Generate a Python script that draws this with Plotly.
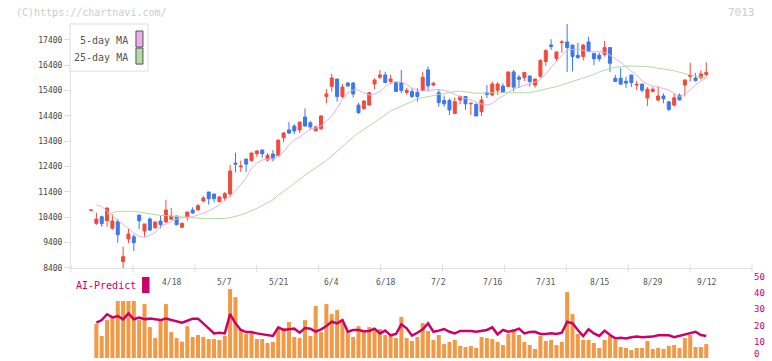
import plotly.graph_objects as go

dates = ["3/28", "3/31", "4/1", "4/2", "4/3", "4/4", "4/7", "4/8", "4/9", "4/10", "4/11", "4/14", "4/15", "4/16", "4/17", "4/18",
         "4/21", "4/22", "4/23", "4/24", "4/25", "4/28", "4/30", "5/1", "5/2", "5/7", "5/8", "5/9", "5/12", "5/13", "5/14", "5/15",
         "5/16", "5/19", "5/20", "5/21", "5/22", "5/23", "5/26", "5/27", "5/28", "5/29", "5/30", "6/2", "6/3", "6/4", "6/5", "6/6",
         "6/9", "6/10", "6/11", "6/12", "6/13", "6/16", "6/17", "6/18", "6/19", "6/20", "6/23", "6/24", "6/25", "6/26", "6/27", "6/30",
         "7/1", "7/2", "7/3", "7/4", "7/7", "7/8", "7/9", "7/10", "7/11", "7/14", "7/15", "7/16", "7/17", "7/18", "7/22", "7/23",
         "7/24", "7/25", "7/28", "7/29", "7/30", "7/31", "8/1", "8/4", "8/5", "8/6", "8/7", "8/8", "8/12", "8/13", "8/14", "8/15",
         "8/18", "8/19", "8/20", "8/21", "8/22", "8/25", "8/26", "8/27", "8/28", "8/29", "9/1", "9/2", "9/3", "9/4", "9/5", "9/8",
         "9/9", "9/10", "9/11", "9/12"]

open_ = [10680, 10160, 10425, 10267, 9967, 10228, 8649, 9545, 9635, 10492, 9860, 10334, 9991, 10255, 10216, 10322,
         10452, 10006, 10425, 10689, 10689, 11044, 11400, 11321, 11017, 11163, 11321, 12540, 12390, 12700, 12640, 12910,
         13060, 12660, 12900, 12830, 13540, 13850, 14000, 13850, 14360, 14130, 13810, 13900, 15170, 15570, 15860, 15170,
         15700, 15700, 14830, 14690, 14830, 15660, 15930, 16020, 15760, 15720, 15720, 15330, 15370, 15330, 15420, 16220,
         15620, 15320, 15010, 15010, 14500, 15030, 15170, 14880, 14860, 14570, 15320, 15230, 15420, 15580, 15560, 16140,
         15930, 15920, 15980, 15620, 15970, 16550, 17200, 16670, 17300, 17320, 17200, 16800, 16750, 17320, 16870, 16800,
         16830, 17100, 15890, 15890, 15770, 16020, 15620, 15660, 15110, 15370, 15030, 15190, 14960, 14830, 15220, 15620,
         15960, 15900, 15900, 16040]
high = [10690, 10580, 10465, 10790, 10519, 10334, 9241, 9967, 9730, 10492, 10137, 10400, 10243, 10452, 11084, 10768,
        10452, 10190, 10622, 10796, 10926, 11242, 11400, 11321, 11250, 11400, 12465, 12950, 12640, 12700, 12940, 13060,
        13060, 12940, 13060, 13450, 13770, 14160, 14080, 14160, 14700, 14210, 14000, 14440, 15460, 16060, 15860, 15660,
        15740, 15740, 14920, 15030, 15320, 15890, 16210, 16150, 16020, 15720, 16210, 15500, 15500, 15500, 16150, 16350,
        15760, 15440, 15210, 15090, 15130, 15210, 15170, 14930, 14900, 15190, 15620, 15760, 15740, 15690, 16140, 16220,
        16020, 16120, 15980, 15860, 16640, 17040, 17430, 16930, 17400, 18030, 17200, 17290, 17240, 17530, 16870, 16900,
        17360, 17100, 16020, 16290, 15950, 16020, 15790, 15660, 15540, 15540, 15580, 15290, 14960, 15290, 15290, 15850,
        16500, 16100, 16210, 16520]
low = [10670, 10100, 10030, 10030, 9908, 9399, 8400, 9375, 9071, 9940, 9635, 9860, 9940, 9967, 10190, 10322,
       10085, 9980, 10267, 10543, 10689, 11005, 10900, 10990, 11017, 11040, 11190, 12170, 12190, 12190, 12600, 12790,
       12750, 12600, 12600, 12830, 13360, 13690, 13690, 13730, 14000, 13850, 13810, 13850, 14900, 15360, 14970, 15100,
       15580, 15130, 14480, 14640, 14830, 15450, 15850, 15700, 15660, 15370, 15300, 15240, 15110, 14970, 15400, 15370,
       15580, 14770, 14760, 14440, 14500, 14860, 14640, 14440, 14400, 14400, 15110, 15170, 15230, 15300, 15560, 15370,
       15500, 15780, 15560, 15520, 15900, 16380, 17010, 16550, 16900, 16140, 16160, 16670, 16590, 16940, 16410, 16550,
       16750, 16140, 15760, 15620, 15500, 15540, 15420, 15330, 14800, 15330, 14970, 14900, 14590, 14770, 15030, 15170,
       15760, 15760, 15850, 15960]
close = [10685, 10330, 10149, 10768, 10255, 9714, 8846, 9742, 9399, 10267, 10137, 9900, 10216, 10109, 10689, 10452,
         10109, 10164, 10610, 10571, 10860, 11163, 11135, 11135, 11202, 11333, 12229, 12500, 12420, 12500, 12940, 13020,
         12910, 12850, 12710, 13450, 13730, 13730, 13810, 14160, 14000, 13970, 13970, 14400, 15270, 15900, 15170, 15540,
         15580, 15270, 14530, 14990, 15320, 15820, 16020, 15720, 15860, 15370, 15410, 15410, 15170, 15170, 15930, 15590,
         15690, 14930, 14880, 14640, 14960, 15170, 14880, 14900, 14400, 15030, 15250, 15660, 15660, 15340, 16140, 15540,
         15850, 16120, 15760, 15860, 16590, 16980, 17140, 16930, 17320, 17100, 16750, 16700, 17200, 16940, 16660, 16660,
         17100, 16480, 15760, 15660, 15700, 15720, 15650, 15420, 15460, 15460, 15190, 15080, 14660, 15120, 15030, 15820,
         16020, 15800, 16060, 16120]

ma5 = [None, 10887, 10827, 10650, 10452, 10275, 10125, 9951, 9781, 9643, 9612, 9683, 9801, 10038, 10137, 10235,
       10334, 10381, 10405, 10425, 10492, 10571, 10650, 10768, 10887, 11084, 11242, 11439, 11676, 11952, 12347, 12544,
       12663, 12702, 12722, 12820, 12978, 13254, 13452, 13570, 13728, 13886, 13925, 14005, 14202, 14399, 14715, 15070,
       15307, 15426, 15426, 15307, 15228, 15268, 15366, 15564, 15702, 15753, 15741, 15643, 15505, 15406, 15386, 15414,
       15438, 15453, 15406, 15347, 15248, 15149, 15090, 15031, 14952, 14873, 14834, 14893, 15070, 15189, 15327, 15465,
       15544, 15603, 15662, 15741, 15840, 16057, 16333, 16570, 16787, 17004, 17024, 17032, 16985, 16938, 16938, 16938,
       16906, 16807, 16649, 16531, 16333, 16175, 16018, 15781, 15662, 15583, 15544, 15485, 15426, 15307, 15169, 15268,
       15426, 15623, 15781, 15888]

ma25 = [None, None, None, 10519, 10591, 10630, 10638, 10642, 10638, 10610, 10571, 10531, 10492, 10472, 10472, 10460,
        10433, 10413, 10393, 10374, 10362, 10354, 10350, 10346, 10346, 10354, 10389, 10433, 10492, 10571, 10650, 10748,
        10867, 10985, 11084, 11281, 11412, 11577, 11735, 11913, 12071, 12209, 12347, 12505, 12643, 12821, 13018, 13215,
        13373, 13570, 13728, 13867, 14005, 14163, 14301, 14439, 14597, 14696, 14794, 14893, 14992, 15070, 15122, 15169,
        15209, 15248, 15280, 15327, 15366, 15386, 15347, 15319, 15299, 15295, 15307, 15319, 15319, 15319, 15315, 15299,
        15295, 15307, 15319, 15366, 15406, 15465, 15513, 15556, 15623, 15682, 15753, 15820, 15887, 15958, 16037, 16136,
        16215, 16274, 16313, 16345, 16365, 16373, 16373, 16361, 16345, 16321, 16294, 16262, 16227, 16187, 16124, 16065,
        16018, 15978, 15939, 15899]

volume = [None, 21.0, 13.6, 23.4, 24.9, 35.2, 35.2, 35.2, 35.2, 23.4, 33.3, 19.1, 12.3, 23.4, 33.3, 16.0,
          12.3, 10.1, 19.7, 13.0, 14.2, 13.0, 11.7, 11.7, 11.1, 13.6, 42.6, 37.6, 17.9, 14.8, 16.0, 11.7,
          11.7, 9.3, 9.9, 17.9, 18.5, 22.2, 13.0, 12.3, 23.4, 13.6, 32.1, 16.0, 33.3, 27.1, 29.6, 21.8,
          16.0, 13.0, 19.7, 17.3, 19.1, 17.3, 17.9, 14.2, 13.6, 12.3, 25.3, 12.3, 10.5, 13.0, 21.6, 16.7,
          11.1, 14.2, 8.6, 9.9, 11.1, 7.4, 6.8, 7.4, 6.2, 13.0, 12.3, 11.7, 9.9, 8.0, 14.8, 17.9,
          14.2, 9.9, 8.0, 5.6, 13.6, 10.5, 11.1, 8.0, 9.9, 40.7, 27.1, 14.8, 11.1, 11.1, 9.3, 6.2,
          11.1, 13.6, 11.1, 6.8, 6.2, 4.9, 6.2, 6.2, 10.5, 5.6, 6.2, 5.6, 7.4, 8.0, 6.2, 12.3,
          14.2, 6.8, 6.8, 8.6]

ai_predict = [None, 21.8, 23.4, 27.0, 25.1, 25.9, 23.9, 27.6, 23.9, 24.9, 23.9, 24.3, 23.9, 23.4, 24.3, 23.4,
              22.4, 21.8, 23.0, 24.3, 24.3, 21.0, 18.3, 15.2, 15.6, 15.2, 27.1, 21.4, 17.3, 16.0, 16.0, 15.2,
              14.8, 14.0, 13.6, 18.9, 17.3, 17.7, 18.1, 15.6, 18.5, 18.1, 16.3, 17.7, 19.7, 22.4, 21.4, 23.4,
              16.2, 17.3, 17.3, 16.5, 16.7, 18.1, 15.2, 16.9, 14.0, 14.8, 20.8, 18.3, 13.8, 15.6, 17.7, 21.4,
              16.2, 16.9, 17.9, 16.2, 15.2, 16.7, 16.7, 16.7, 16.2, 16.7, 17.3, 18.9, 14.6, 17.3, 16.2, 16.9,
              18.1, 15.2, 16.0, 16.2, 14.8, 14.8, 15.2, 14.8, 15.6, 22.4, 21.4, 17.3, 13.6, 17.7, 15.2, 13.6,
              16.9, 14.2, 12.1, 12.5, 12.1, 12.8, 13.2, 12.8, 12.8, 13.2, 14.0, 14.0, 14.0, 12.8, 13.6, 14.8,
              15.2, 16.2, 14.2, 13.6]

price_ticks = [8400, 9400, 10400, 11400, 12400, 13400, 14400, 15400, 16400, 17400]
ai_ticks = [0, 10, 20, 30, 40, 50]
date_labels = ["4/18", "5/7", "5/21", "6/4", "6/18", "7/2", "7/16", "7/31", "8/15", "8/29", "9/12"]

RED = "#f04b3a"
BLUE = "#3b78f0"
PINK = "#e6b0e6"
GREEN = "#b3daa3"
ORANGE = "#f29946"
CRIMSON = "#cc0066"
MONO = "DejaVu Sans Mono"

fig = go.Figure()
fig.add_trace(go.Candlestick(
    x=dates, open=open_, high=high, low=low, close=close,
    increasing=dict(line=dict(color=RED, width=1), fillcolor=RED),
    decreasing=dict(line=dict(color=BLUE, width=1), fillcolor=BLUE),
    whiskerwidth=0, xaxis="x", yaxis="y", hoverinfo="skip"))
fig.add_trace(go.Scatter(x=dates, y=ma5, mode="lines", line=dict(color=PINK, width=1),
                         xaxis="x", yaxis="y", hoverinfo="skip"))
fig.add_trace(go.Scatter(x=dates, y=ma25, mode="lines", line=dict(color=GREEN, width=1),
                         xaxis="x", yaxis="y", hoverinfo="skip"))
fig.add_trace(go.Bar(x=dates, y=volume, marker=dict(color=ORANGE, line=dict(width=0)), width=0.75,
                     xaxis="x2", yaxis="y2", hoverinfo="skip"))
fig.add_trace(go.Scatter(x=dates, y=ai_predict, mode="lines", line=dict(color=CRIMSON, width=2.5),
                         xaxis="x2", yaxis="y2", hoverinfo="skip"))

xr = [-3.74, 123.55]
fig.update_layout(
    width=772, height=361,
    margin=dict(l=71, r=20, t=24, b=3, autoexpand=False),
    paper_bgcolor="white", plot_bgcolor="white",
    showlegend=False, boxgap=0.2,
    xaxis=dict(domain=[0, 1], anchor="y", type="category", categoryarray=dates, range=xr,
               showline=True, linecolor="#e2e2e2", linewidth=1, showgrid=False, zeroline=False,
               showticklabels=False, ticks="", rangeslider=dict(visible=False), fixedrange=True),
    yaxis=dict(domain=[0.2695, 1], range=[8400, 18031], tickvals=price_ticks,
               ticktext=[str(v) for v in price_ticks], ticks="outside", ticklen=6, tickcolor="#dddddd",
               showline=True, linecolor="#e2e2e2", linewidth=1, showgrid=False, zeroline=False,
               tickfont=dict(family=MONO, size=8, color="#444444")),
    xaxis2=dict(domain=[0, 1], anchor="y2", type="category", categoryarray=dates, range=xr,
                showline=False, showgrid=False, zeroline=False, showticklabels=False, ticks=""),
    yaxis2=dict(domain=[0, 0.2425], anchor="x2", side="right", range=[0, 50], tickvals=ai_ticks,
                ticks="", showline=False, showgrid=False, zeroline=False, showticklabels=False),
)

ann = []
ann.append(dict(text="(C)https://chartnavi.com/", xref="paper", yref="paper", x=-0.0837, y=1.0344,
                xanchor="left", yanchor="middle", showarrow=False,
                font=dict(family=MONO, size=10, color="#cccccc")))
ann.append(dict(text="7013", xref="paper", yref="paper", x=1.0073, y=1.0344,
                xanchor="right", yanchor="middle", showarrow=False,
                font=dict(family=MONO, size=11, color="#cccccc")))
ann.append(dict(text="5-day MA", xref="paper", yref="paper", x=0.0866, y=0.952,
                xanchor="right", yanchor="middle", showarrow=False,
                font=dict(family=MONO, size=10, color="#555555")))
ann.append(dict(text="25-day MA", xref="paper", yref="paper", x=0.0866, y=0.901,
                xanchor="right", yanchor="middle", showarrow=False,
                font=dict(family=MONO, size=10, color="#555555")))
ann.append(dict(text="AI-Predict", xref="paper", yref="paper", x=0.0045, y=0.217,
                xanchor="left", yanchor="middle", showarrow=False,
                font=dict(family=MONO, size=10, color=CRIMSON)))
for d in date_labels:
    ann.append(dict(text=d, xref="x2", yref="paper", x=d, y=0.226, xanchor="center", yanchor="middle",
                    showarrow=False, font=dict(family=MONO, size=8, color="#555555")))
for v in ai_ticks:
    if v == 0:
        ann.append(dict(text=str(v), xref="paper", yref="y2", x=1.0, y=v, xanchor="left", yanchor="bottom",
                        yshift=-3, showarrow=False, font=dict(family=MONO, size=9, color=CRIMSON)))
    else:
        ann.append(dict(text=str(v), xref="paper", yref="y2", x=1.0, y=v, xanchor="left", yanchor="middle",
                        showarrow=False, font=dict(family=MONO, size=9, color=CRIMSON)))
fig.update_layout(annotations=ann)

shapes = []
shapes.append(dict(type="rect", xref="paper", yref="paper", x0=-0.0015, x1=0.113, y0=0.859, y1=1.0,
                   line=dict(color="#dddddd", width=1), fillcolor="white", layer="above"))
shapes.append(dict(type="rect", xref="paper", yref="paper", x0=0.0954, x1=0.1057, y0=0.931, y1=0.979,
                   line=dict(color="#555555", width=1), fillcolor=PINK, layer="above"))
shapes.append(dict(type="rect", xref="paper", yref="paper", x0=0.0954, x1=0.1057, y0=0.880, y1=0.928,
                   line=dict(color="#555555", width=1), fillcolor=GREEN, layer="above"))
shapes.append(dict(type="rect", xref="paper", yref="paper", x0=0.1043, x1=0.1153, y0=0.1946, y1=0.2425,
                   line=dict(width=0), fillcolor=CRIMSON))
for k in range(12):
    shapes.append(dict(type="line", xref="x domain", yref="paper", x0=k / 11, x1=k / 11,
                       y0=0.2575, y1=0.2784, line=dict(color="#dddddd", width=1)))
fig.update_layout(shapes=shapes)

fig.write_html("out.html", config={"displayModeBar": False, "staticPlot": True},
               post_script="document.body.style.margin='0';document.body.style.padding='0';")
